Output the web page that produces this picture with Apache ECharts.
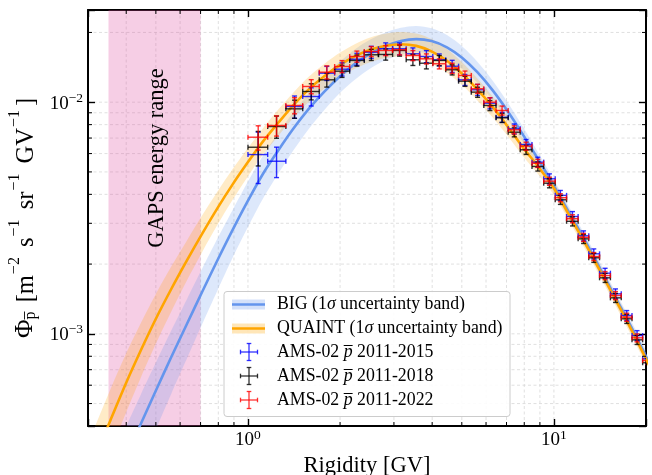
<!DOCTYPE html>
<html><head><meta charset="utf-8">
<script src="https://cdn.jsdelivr.net/npm/echarts@6/dist/echarts.min.js"></script>
<style>html,body{margin:0;padding:0;background:#fff}#c{width:652px;height:475px}</style>
</head><body><div id="c"></div>
<script>
const FONT = "'Liberation Serif', 'DejaVu Serif', serif";

// ---- model curves (rigidity in GV, flux in m^-2 s^-1 sr^-1 GV^-1)
const quaintR = [0.282,0.316,0.355,0.398,0.447,0.501,0.562,0.631,0.708,0.794,0.891,1.0,1.12,1.26,1.41,1.58,1.78,2.0,2.24,2.51,2.82,3.16,3.55,3.98,4.47,5.01,5.62,6.31,7.08,7.94,8.91,10.0,11.2,12.6,14.1,15.8,17.8,20.0,22.4];
const quaintFlux = [2.00e-4,2.92e-4,4.23e-4,6.06e-4,8.51e-4,1.167e-3,1.565e-3,2.069e-3,2.700e-3,3.479e-3,4.416e-3,5.512e-3,6.776e-3,8.19e-3,9.74e-3,1.136e-2,1.297e-2,1.449e-2,1.580e-2,1.683e-2,1.751e-2,1.778e-2,1.750e-2,1.657e-2,1.509e-2,1.327e-2,1.135e-2,9.52e-3,7.82e-3,6.35e-3,5.25e-3,4.25e-3,3.26e-3,2.48e-3,1.888e-3,1.426e-3,1.059e-3,7.80e-4,5.69e-4];
const quaintLo = [1.47e-4,2.15e-4,3.11e-4,4.52e-4,6.50e-4,9.12e-4,1.252e-3,1.696e-3,2.250e-3,2.948e-3,3.791e-3,4.793e-3,5.944e-3,7.184e-3,8.581e-3,1.001e-2,1.148e-2,1.282e-2,1.398e-2,1.489e-2,1.550e-2,1.573e-2,1.549e-2,1.466e-2,1.341e-2,1.185e-2,1.018e-2,8.58e-3,7.11e-3,5.83e-3,4.86e-3,3.97e-3,3.08e-3,2.34e-3,1.781e-3,1.345e-3,9.99e-4,7.36e-4,5.37e-4];
const quaintHi = [2.72e-4,3.97e-4,5.75e-4,8.12e-4,1.115e-3,1.494e-3,1.956e-3,2.524e-3,3.240e-3,4.105e-3,5.145e-3,6.339e-3,7.725e-3,9.337e-3,1.105e-2,1.289e-2,1.466e-2,1.637e-2,1.785e-2,1.902e-2,1.979e-2,2.009e-2,1.978e-2,1.872e-2,1.698e-2,1.486e-2,1.266e-2,1.057e-2,8.60e-3,6.92e-3,5.67e-3,4.55e-3,3.46e-3,2.63e-3,2.001e-3,1.512e-3,1.123e-3,8.27e-4,6.03e-4];

const bigR = [0.355,0.398,0.447,0.501,0.562,0.631,0.708,0.794,0.891,1.0,1.12,1.26,1.41,1.58,1.78,2.0,2.24,2.51,2.82,3.16,3.55,3.98,4.47,5.01,5.62,6.31,7.08,7.94,8.91,10.0,11.2,12.6,14.1,15.8,17.8,20.0,22.4];
const bigFlux = [2.09e-4,2.93e-4,4.10e-4,5.72e-4,7.96e-4,1.10e-3,1.516e-3,2.073e-3,2.81e-3,3.756e-3,4.91e-3,6.23e-3,7.71e-3,9.35e-3,1.113e-2,1.294e-2,1.467e-2,1.622e-2,1.748e-2,1.837e-2,1.871e-2,1.835e-2,1.726e-2,1.556e-2,1.347e-2,1.125e-2,9.10e-3,7.21e-3,5.63e-3,4.35e-3,3.34e-3,2.547e-3,1.931e-3,1.453e-3,1.084e-3,7.99e-4,5.84e-4];
const bigLo = [1.39e-4,1.95e-4,2.73e-4,3.89e-4,5.53e-4,7.80e-4,1.099e-3,1.536e-3,2.129e-3,2.889e-3,3.836e-3,4.944e-3,6.218e-3,7.664e-3,9.275e-3,1.097e-2,1.254e-2,1.398e-2,1.520e-2,1.604e-2,1.641e-2,1.617e-2,1.527e-2,1.389e-2,1.214e-2,1.023e-2,8.35e-3,6.68e-3,5.26e-3,4.08e-3,3.15e-3,2.403e-3,1.822e-3,1.371e-3,1.023e-3,7.54e-4,5.51e-4];
const bigHi = [2.80e-4,3.93e-4,5.49e-4,7.55e-4,1.035e-3,1.408e-3,1.910e-3,2.571e-3,3.428e-3,4.545e-3,5.892e-3,7.414e-3,9.098e-3,1.094e-2,1.297e-2,1.501e-2,1.694e-2,1.865e-2,2.001e-2,2.094e-2,2.133e-2,2.083e-2,1.950e-2,1.743e-2,1.495e-2,1.238e-2,9.92e-3,7.79e-3,6.02e-3,4.63e-3,3.54e-3,2.700e-3,2.047e-3,1.540e-3,1.149e-3,8.47e-4,6.19e-4];

// ---- AMS-02 antiproton data
const amsRigidity = [1.08,1.24,1.42,1.61,1.81,2.03,2.27,2.53,2.82,3.13,3.46,3.83,4.22,4.65,5.12,5.63,6.18,6.77,7.42,8.11,8.86,9.67,10.5,11.5,12.5,13.5,14.7,15.9,17.3,18.7,20.3];
const binLow  = [1.00,1.16,1.33,1.51,1.71,1.92,2.15,2.40,2.67,2.97,3.29,3.64,4.02,4.43,4.88,5.37,5.90,6.47,7.09,7.76,8.48,9.26,10.1,11.0,12.0,13.0,14.1,15.3,16.6,18.0,19.5];
const binHigh = [1.16,1.33,1.51,1.71,1.92,2.15,2.40,2.67,2.97,3.29,3.64,4.02,4.43,4.88,5.37,5.90,6.47,7.09,7.76,8.48,9.26,10.1,11.0,12.0,13.0,14.1,15.3,16.6,18.0,19.5,21.1];
const ams2015 = [5.94e-3,5.56e-3,9.58e-3,1.058e-2,1.334e-2,1.388e-2,1.533e-2,1.644e-2,1.701e-2,1.701e-2,1.618e-2,1.575e-2,1.524e-2,1.430e-2,1.249e-2,1.131e-2,9.90e-3,8.61e-3,7.67e-3,6.57e-3,5.51e-3,4.67e-3,3.96e-3,3.21e-3,2.65e-3,2.215e-3,1.827e-3,1.488e-3,1.20e-3,9.83e-4,7.8e-4];
const ams2018 = [6.39e-3,7.85e-3,9.36e-3,1.112e-2,1.249e-2,1.361e-2,1.514e-2,1.602e-2,1.607e-2,1.672e-2,1.524e-2,1.473e-2,1.514e-2,1.380e-2,1.232e-2,1.105e-2,9.68e-3,8.56e-3,7.42e-3,6.23e-3,5.28e-3,4.47e-3,3.79e-3,3.06e-3,2.57e-3,2.13e-3,1.745e-3,1.43e-3,1.161e-3,9.42e-4,7.5e-4];
const ams2022 = [7.06e-3,7.93e-3,9.68e-3,1.169e-2,1.347e-2,1.426e-2,1.575e-2,1.655e-2,1.672e-2,1.684e-2,1.591e-2,1.539e-2,1.465e-2,1.402e-2,1.304e-2,1.143e-2,1.00e-2,9.21e-3,7.60e-3,6.46e-3,5.45e-3,4.56e-3,3.87e-3,3.14e-3,2.61e-3,2.157e-3,1.785e-3,1.463e-3,1.18e-3,9.61e-4,7.67e-4];
// relative 1-sigma errors (percent)
const err2015 = [25,15,11,9,7,6.5,6,6,6,6,6,6,6,6,5.5,5.5,5.5,5,5,5,5,5,5,5,5,5,5,5,5,5,5];
const err2018 = [17,11,9,8,7,6,5.5,5.5,5.5,5.5,5.5,5.5,5,5,5,5,5,4.5,4.5,4.5,4.5,4.5,4.5,4.5,4.5,4.5,4.5,4.5,4.5,4.5,4.5];
const err2022 = [12,10,8,7,6.5,6,5.5,5,5,5,5,5,5,5,4.5,4.5,4.5,4.5,4,4,4,4,4,4,4,4,4,4,4,4,4];

const gapsRange = [0.35, 0.70];
const xMinor = [0.4,0.5,0.6,0.7,0.8,0.9,2,3,4,5,6,7,8,9];
const xMajor = [1,10];
const yMinor = [5e-4,6e-4,7e-4,8e-4,9e-4,2e-3,3e-3,4e-3,5e-3,6e-3,7e-3,8e-3,9e-3,2e-2];
const yMajor = [1e-3,1e-2];

const legendLabels = [
  'BIG (1{it|σ} uncertainty band)',
  'QUAINT (1{it|σ} uncertainty band)',
  'AMS-02 {it|p\u0305} 2011-2015',
  'AMS-02 {it|p\u0305} 2011-2018',
  'AMS-02 {it|p\u0305} 2011-2022'
];

const C_BIG = '#6495ED', C_QUAINT = '#FFA500';
const C_2015 = 'rgba(0,0,255,0.8)', C_2018 = 'rgba(0,0,0,0.8)', C_2022 = 'rgba(255,0,0,0.8)';

function powLabel(v) {
  const e = Math.log10(v), r = Math.round(e);
  if (Math.abs(e - r) > 1e-6) return '';
  return '{b|10}{s|' + (r < 0 ? '\u2212' : '') + Math.abs(r) + '}';
}
const tickRich = {
  b: {fontFamily: FONT, fontSize: 19, lineHeight: 22, color: '#000', verticalAlign: 'bottom'},
  s: {fontFamily: FONT, fontSize: 13.5, lineHeight: 12, color: '#000', verticalAlign: 'top'}
};

function bandSeries(R, lo, hi, color) {
  return {
    type: 'custom', coordinateSystem: 'cartesian2d', clip: true, silent: true, z: 2,
    data: [[3, 0.01]],
    renderItem: function (params, api) {
      const pts = [];
      for (let i = 0; i < R.length; i++) pts.push(api.coord([R[i], hi[i]]));
      for (let i = R.length - 1; i >= 0; i--) pts.push(api.coord([R[i], lo[i]]));
      return {type: 'polygon', shape: {points: pts, smooth: 0.3}, style: {fill: color}};
    }
  };
}

function errSeries(flux, errPct, color) {
  const data = amsRigidity.map((r, i) => [r, flux[i], binLow[i], binHigh[i],
    flux[i] * (1 - errPct[i] / 100), flux[i] * (1 + errPct[i] / 100)]);
  return {
    type: 'custom', coordinateSystem: 'cartesian2d', clip: true, silent: true, z: 5,
    data: data,
    renderItem: function (params, api) {
      const x = api.value(0), y = api.value(1);
      const c = api.coord([x, y]);
      const l = api.coord([api.value(2), y]), h = api.coord([api.value(3), y]);
      const b = api.coord([x, api.value(4)]), t = api.coord([x, api.value(5)]);
      const st = {stroke: color, lineWidth: 1.4};
      const cap = 2.5;
      const L = (x1, y1, x2, y2) => ({type: 'line', shape: {x1, y1, x2, y2}, style: st});
      return {type: 'group', children: [
        L(l[0], c[1], h[0], c[1]),
        L(c[0], t[1], c[0], b[1]),
        L(l[0], c[1] - cap, l[0], c[1] + cap),
        L(h[0], c[1] - cap, h[0], c[1] + cap),
        L(c[0] - cap, t[1], c[0] + cap, t[1]),
        L(c[0] - cap, b[1], c[0] + cap, b[1])
      ]};
    }
  };
}

const gridSeries = {
  type: 'custom', coordinateSystem: 'cartesian2d', clip: false, silent: true, z: 0,
  data: [[1, 0.01]],
  renderItem: function (params, api) {
    const cs = params.coordSys;
    const top = cs.y, bot = cs.y + cs.height, left = cs.x, right = cs.x + cs.width;
    const ch = [];
    const dash = {stroke: '#d8d8d8', lineWidth: 0.8, lineDash: [3, 2.5]};
    xMinor.concat(xMajor).forEach(v => {
      const px = api.coord([v, 1e-2])[0];
      ch.push({type: 'line', shape: {x1: px, y1: top, x2: px, y2: bot}, style: dash});
    });
    yMinor.concat(yMajor).forEach(v => {
      const py = api.coord([1, v])[1];
      ch.push({type: 'line', shape: {x1: left, y1: py, x2: right, y2: py}, style: dash});
    });
    return {type: 'group', children: ch};
  }
};

const minorTickSeries = {
  type: 'custom', coordinateSystem: 'cartesian2d', clip: false, silent: true, z: 20,
  data: [[1, 0.01]],
  renderItem: function (params, api) {
    const cs = params.coordSys;
    const top = cs.y, bot = cs.y + cs.height, left = cs.x, right = cs.x + cs.width;
    const ch = [], st = {stroke: '#000', lineWidth: 1}, len = 4;
    xMinor.forEach(v => {
      const px = api.coord([v, 1e-2])[0];
      ch.push({type: 'line', shape: {x1: px, y1: bot, x2: px, y2: bot - len}, style: st});
      ch.push({type: 'line', shape: {x1: px, y1: top, x2: px, y2: top + len}, style: st});
    });
    yMinor.forEach(v => {
      const py = api.coord([1, v])[1];
      ch.push({type: 'line', shape: {x1: left, y1: py, x2: left + len, y2: py}, style: st});
      ch.push({type: 'line', shape: {x1: right, y1: py, x2: right - len, y2: py}, style: st});
    });
    return {type: 'group', children: ch};
  }
};

const gapsSeries = {
  type: 'custom', coordinateSystem: 'cartesian2d', clip: true, silent: true, z: 1,
  data: [[gapsRange[0], gapsRange[1]]],
  renderItem: function (params, api) {
    const cs = params.coordSys;
    const a = api.coord([api.value(0), 1e-2])[0], b = api.coord([api.value(1), 1e-2])[0];
    return {type: 'rect', shape: {x: a, y: cs.y, width: b - a, height: cs.height},
      style: {fill: 'rgba(222,80,160,0.28)'}};
  }
};

const axisLineSt = {show: true, onZero: false, lineStyle: {color: '#000', width: 2}};
const axisTickSt = {show: true, inside: true, length: 7, lineStyle: {color: '#000', width: 1.4}};

const legendItems = [];
const lgX = 224, lgY = 291.5, rows = [304.5, 328.5, 352, 376, 400];
legendItems.push({type: 'rect', z: 100, shape: {x: lgX, y: lgY, width: 286, height: 125, r: 3},
  style: {fill: 'rgba(255,255,255,0.88)', stroke: '#cccccc', lineWidth: 1}});
[[C_BIG, 'rgba(100,149,237,0.28)'], [C_QUAINT, 'rgba(255,165,0,0.28)']].forEach((c, i) => {
  legendItems.push({type: 'rect', z: 101, shape: {x: 232, y: rows[i] - 5, width: 33, height: 10}, style: {fill: c[1]}});
  legendItems.push({type: 'line', z: 102, shape: {x1: 232, y1: rows[i], x2: 265, y2: rows[i]}, style: {stroke: c[0], lineWidth: 2.6}});
});
[C_2015, C_2018, C_2022].forEach((c, k) => {
  const y = rows[k + 2], x = 249, st = {stroke: c, lineWidth: 1.3};
  [[x - 8.5, y, x + 8.5, y], [x, y - 8.5, x, y + 8.5], [x - 8.5, y - 2.3, x - 8.5, y + 2.3], [x + 8.5, y - 2.3, x + 8.5, y + 2.3],
   [x - 2.3, y - 8.5, x + 2.3, y - 8.5], [x - 2.3, y + 8.5, x + 2.3, y + 8.5]].forEach(s => {
    legendItems.push({type: 'line', z: 102, shape: {x1: s[0], y1: s[1], x2: s[2], y2: s[3]}, style: st});
  });
});
legendLabels.forEach((t, i) => {
  legendItems.push({type: 'text', z: 102, x: 277, y: rows[i], style: {
    text: t, fill: '#000', fontFamily: FONT, fontSize: 17.8, align: 'left', verticalAlign: 'middle',
    rich: {it: {fontFamily: FONT, fontSize: 17.8, fontStyle: 'italic', fill: '#000'}}
  }});
});
legendItems.push({type: 'text', z: 30, x: 157, y: 158, rotation: Math.PI / 2, style: {
  text: 'GAPS energy range', fill: '#000', fontFamily: FONT, fontSize: 22.5, align: 'center', verticalAlign: 'middle'
}});

const option = {
  animation: false,
  backgroundColor: '#ffffff',
  grid: {left: 88, right: 6, top: 10, bottom: 49, containLabel: false, outerBoundsMode: 'none'},
  xAxis: [
    {type: 'log', logBase: 10, min: 0.3, max: 20, position: 'bottom',
      axisLine: axisLineSt, axisTick: axisTickSt, splitLine: {show: false},
      axisLabel: {formatter: powLabel, rich: tickRich, margin: 2, hideOverlap: false},
      name: 'Rigidity [GV]', nameLocation: 'middle', nameGap: 24,
      nameTextStyle: {fontFamily: FONT, fontSize: 22.5, color: '#000'}},
    {type: 'log', logBase: 10, min: 0.3, max: 20, position: 'top',
      axisLine: axisLineSt, axisTick: axisTickSt, splitLine: {show: false}, axisLabel: {show: false}}
  ],
  yAxis: [
    {type: 'log', logBase: 10, min: 4e-4, max: 0.025, position: 'left',
      axisLine: axisLineSt, axisTick: axisTickSt, splitLine: {show: false},
      axisLabel: {formatter: powLabel, rich: tickRich, margin: 5, hideOverlap: false},
      name: '{phi|\u03A6}{sub|p\u0305}{t| [m}{sup|\u22122}{t| s}{sup|\u22121}{t| sr}{sup|\u22121}{t| GV}{sup|\u22121}{t|]}',
      nameLocation: 'middle', nameRotate: 90, nameGap: 48,
      nameTextStyle: {fontFamily: FONT, fontSize: 24.5, color: '#000',
        rich: {
          phi: {fontFamily: FONT, fontSize: 25.5, lineHeight: 32, verticalAlign: 'bottom', color: '#000'},
          t: {fontFamily: FONT, fontSize: 24.5, lineHeight: 32, verticalAlign: 'bottom', color: '#000'},
          sub: {fontFamily: FONT, fontSize: 16, lineHeight: 14, verticalAlign: 'bottom', color: '#000', padding: [0, 3, 0, 0]},
          sup: {fontFamily: FONT, fontSize: 16, lineHeight: 19, verticalAlign: 'top', color: '#000', padding: [0, 4, 0, 1]}
        }}},
    {type: 'log', logBase: 10, min: 4e-4, max: 0.025, position: 'right',
      axisLine: axisLineSt, axisTick: axisTickSt, splitLine: {show: false}, axisLabel: {show: false}}
  ],
  series: [
    gridSeries,
    gapsSeries,
    bandSeries(bigR, bigLo, bigHi, 'rgba(100,149,237,0.22)'),
    bandSeries(quaintR, quaintLo, quaintHi, 'rgba(255,165,0,0.22)'),
    {type: 'line', name: 'BIG', data: bigR.map((r, i) => [r, bigFlux[i]]), showSymbol: false, smooth: 0.3,
      lineStyle: {color: C_BIG, width: 2.6}, z: 3, silent: true},
    {type: 'line', name: 'QUAINT', data: quaintR.map((r, i) => [r, quaintFlux[i]]), showSymbol: false, smooth: 0.3,
      lineStyle: {color: C_QUAINT, width: 2.6}, z: 3, silent: true},
    errSeries(ams2015, err2015, C_2015),
    errSeries(ams2018, err2018, C_2018),
    errSeries(ams2022, err2022, C_2022),
    minorTickSeries
  ],
  graphic: legendItems
};

const chart = echarts.init(document.getElementById('c'), null, {renderer: 'canvas'});
chart.setOption(option);
</script></body></html>
